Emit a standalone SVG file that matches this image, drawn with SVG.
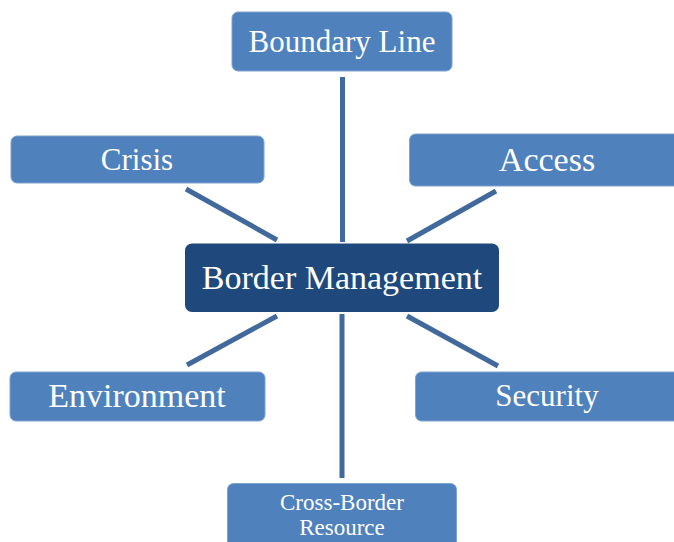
<svg xmlns="http://www.w3.org/2000/svg" width="674" height="542" viewBox="0 0 674 542">
<style>
.node{fill:#4F81BD;stroke:#7FA2CF;stroke-width:1}
.center{fill:#1F497D}
.lbl{font-family:"Liberation Serif","Times New Roman",serif;fill:#ffffff;text-anchor:middle}
.conn{stroke:#41699B;stroke-width:5;stroke-linecap:butt;fill:none}
</style>
<rect width="674" height="542" fill="#ffffff"/>
<g id="connectors">
<line class="conn" x1="342.5" y1="77" x2="342.5" y2="242"/>
<line class="conn" x1="186" y1="189" x2="277" y2="240"/>
<line class="conn" x1="496" y1="191" x2="407" y2="241"/>
<line class="conn" x1="277" y1="316" x2="187" y2="365"/>
<line class="conn" x1="407" y1="316" x2="498" y2="366"/>
<line class="conn" x1="342" y1="314" x2="342" y2="478"/>
</g>
<g id="boundary-line">
<rect class="node" x="232" y="12" width="220" height="59" rx="6"/>
<text class="lbl" x="342" y="52" font-size="31">Boundary Line</text>
</g>
<g id="crisis">
<rect class="node" x="11" y="136" width="253" height="47" rx="6"/>
<text class="lbl" x="137" y="170" font-size="31">Crisis</text>
</g>
<g id="access">
<rect class="node" x="409.5" y="134" width="280" height="52" rx="6"/>
<text class="lbl" x="547" y="171" font-size="34">Access</text>
</g>
<g id="border-management">
<rect class="center" x="185" y="243.5" width="314" height="68.5" rx="7"/>
<text class="lbl" x="342" y="289" font-size="34">Border Management</text>
</g>
<g id="environment">
<rect class="node" x="10" y="372" width="255" height="49" rx="6"/>
<text class="lbl" x="137" y="407" font-size="34">Environment</text>
</g>
<g id="security">
<rect class="node" x="415.5" y="372" width="280" height="49" rx="6"/>
<text class="lbl" x="547" y="406" font-size="31">Security</text>
</g>
<g id="cross-border-resource">
<rect class="node" x="227.5" y="483.5" width="229" height="70" rx="6"/>
<text class="lbl" x="342" y="510" font-size="23">Cross-Border</text>
<text class="lbl" x="342" y="535" font-size="23">Resource</text>
</g>
</svg>
